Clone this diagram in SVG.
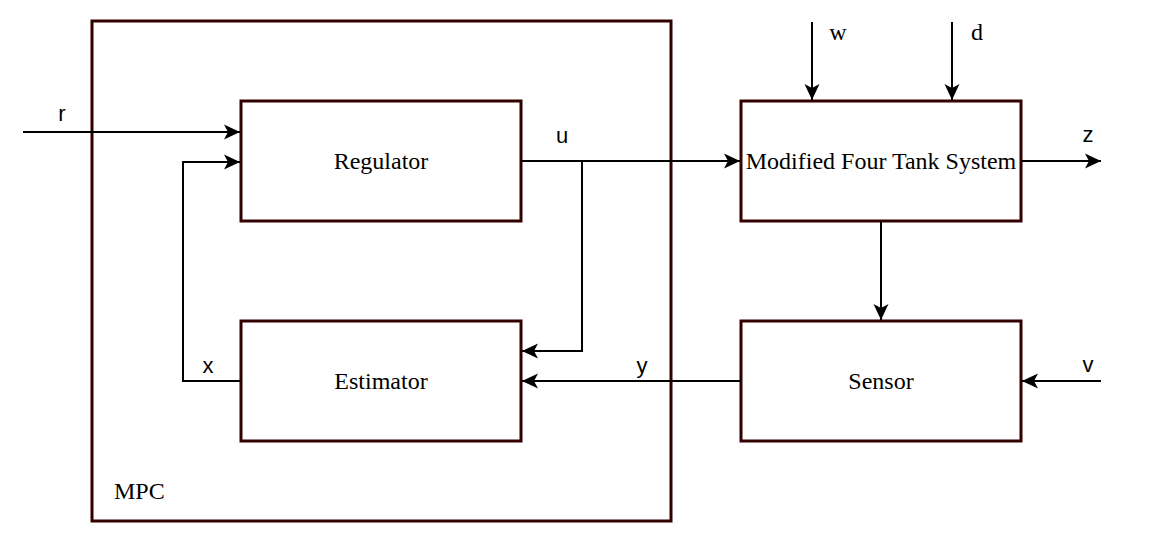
<svg xmlns="http://www.w3.org/2000/svg" width="1153" height="534" viewBox="0 0 1153 534">
<style>
.box{fill:#fff;stroke:#330000;stroke-width:3}
.frame{fill:none;stroke:#330000;stroke-width:3}
.ser{font-family:"Liberation Serif",serif;font-size:24px;fill:#000}
.san{font-family:"Liberation Sans",sans-serif;font-size:22px;fill:#000}
.c{fill:none;stroke:#000;stroke-width:2}
</style>
<defs>
<marker id="a" markerUnits="userSpaceOnUse" markerWidth="18" markerHeight="18" viewBox="0 0 18 18" refX="17" refY="9" orient="auto">
<path d="M1,1.5 L17,9 L1,16.5 L5,9 Z" fill="#000"/>
</marker>
</defs>
<g id="mpc">
<rect class="frame" x="92" y="21" width="579" height="500"/>
<text class="ser" x="114" y="499">MPC</text>
</g>
<g id="regulator">
<rect class="box" x="241" y="101" width="280" height="120"/>
<text class="ser" x="381" y="169" text-anchor="middle">Regulator</text>
</g>
<g id="estimator">
<rect class="box" x="241" y="321" width="280" height="120"/>
<text class="ser" x="381" y="389" text-anchor="middle">Estimator</text>
</g>
<g id="plant">
<rect class="box" x="741" y="101" width="280" height="120"/>
<text class="ser" x="881" y="169" text-anchor="middle">Modified Four Tank System</text>
</g>
<g id="sensor">
<rect class="box" x="741" y="321" width="280" height="120"/>
<text class="ser" x="881" y="389" text-anchor="middle">Sensor</text>
</g>
<g id="connectors">
<path class="c" d="M23,132 H240" marker-end="url(#a)"/>
<path class="c" d="M241,381 H183 V162 H240" marker-end="url(#a)"/>
<path class="c" d="M521,161 H740" marker-end="url(#a)"/>
<path class="c" d="M582,161 V351 H522" marker-end="url(#a)"/>
<path class="c" d="M741,381 H522" marker-end="url(#a)"/>
<path class="c" d="M812,22 V100" marker-end="url(#a)"/>
<path class="c" d="M952,22 V100" marker-end="url(#a)"/>
<path class="c" d="M1021,161 H1101" marker-end="url(#a)"/>
<path class="c" d="M881,221 V320" marker-end="url(#a)"/>
<path class="c" d="M1101,381 H1022" marker-end="url(#a)"/>
<text class="san" x="62" y="121" text-anchor="middle">r</text>
<text class="san" x="562" y="143" text-anchor="middle">u</text>
<text class="san" x="208" y="373" text-anchor="middle">x</text>
<text class="san" x="642" y="373" text-anchor="middle">y</text>
<text class="san" x="1088" y="142" text-anchor="middle">z</text>
<text class="san" x="1088" y="372" text-anchor="middle">v</text>
<text class="ser" x="838" y="40" text-anchor="middle">w</text>
<text class="ser" x="977" y="40" text-anchor="middle">d</text>
</g>
</svg>
